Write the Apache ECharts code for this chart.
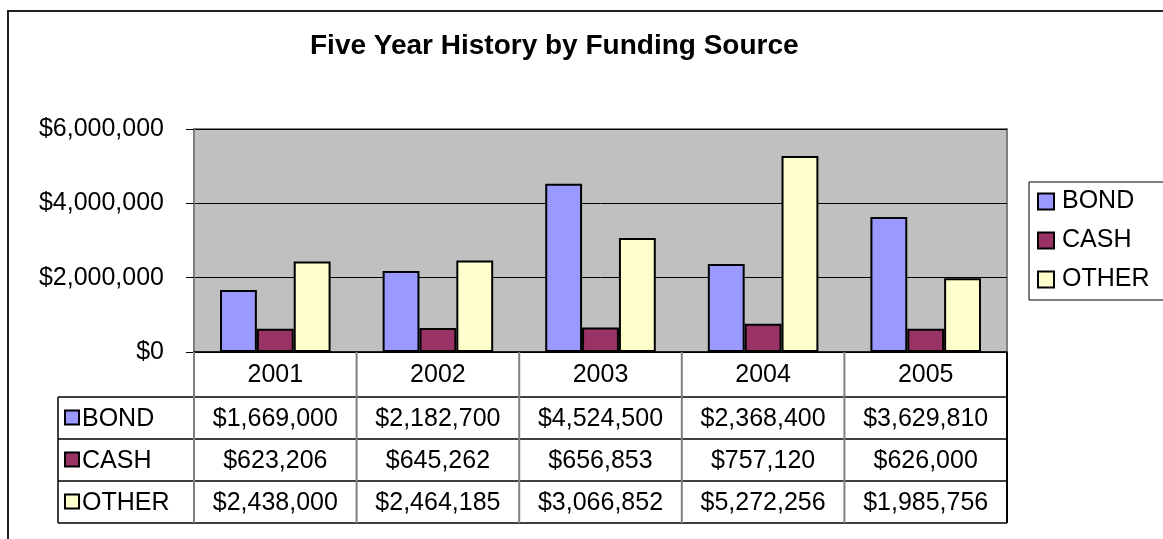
<!DOCTYPE html>
<html>
<head>
<meta charset="utf-8">
<script src="https://cdn.jsdelivr.net/npm/echarts@6/dist/echarts.min.js"></script>
<style>
  html, body { margin: 0; padding: 0; background: #fff; }
  #chart { width: 1163px; height: 539px; }
</style>
</head>
<body>
<div id="chart"></div>
<script>
// Funding by source, 2001-2005
const chartTitle = 'Five Year History by Funding Source';
const years = ['2001', '2002', '2003', '2004', '2005'];
const sourceNames = ['BOND', 'CASH', 'OTHER'];
const bond = [1669000, 2182700, 4524500, 2368400, 3629810];
const cash = [623206, 645262, 656853, 757120, 626000];
const other = [2438000, 2464185, 3066852, 5272256, 1985756];
const yTicks = [0, 2000000, 4000000, 6000000];

const sourceValues = [bond, cash, other];
const sourceColors = ['#9999FF', '#993366', '#FFFFCC'];
const FONT = '"Liberation Sans", Arial, sans-serif';
const LABEL_SIZE = 25;

const money = v => '$' + Number(v).toLocaleString('en-US');

const chart = echarts.init(document.getElementById('chart'), null, { renderer: 'canvas' });

chart.setOption({
  animation: false,
  backgroundColor: '#ffffff',
  textStyle: { fontFamily: FONT },
  title: {
    text: chartTitle,
    left: 305,
    top: 27,
    textStyle: { fontFamily: FONT, fontSize: 28, fontWeight: 'bold', color: '#000' }
  },
  legend: {
    orient: 'vertical',
    left: 1029,
    top: 182,
    padding: [7, 30, 8, 8],
    itemGap: 14,
    itemWidth: 16,
    itemHeight: 16,
    icon: 'rect',
    borderColor: '#000',
    borderWidth: 1,
    textStyle: { fontFamily: FONT, fontSize: LABEL_SIZE, color: '#000', padding: [0, 0, 0, 3] },
    data: sourceNames
  },
  grid: {
    left: 194, right: 156, top: 129, bottom: 187,
    show: true,
    backgroundColor: '#C0C0C0',
    borderColor: '#808080',
    borderWidth: 2
  },
  xAxis: {
    type: 'category',
    data: years,
    axisLine: { show: true, lineStyle: { color: '#000', width: 1.5 } },
    axisTick: { show: false },
    axisLabel: { show: false },
    splitLine: { show: false }
  },
  yAxis: {
    type: 'value',
    min: yTicks[0],
    max: yTicks[yTicks.length - 1],
    interval: yTicks[1] - yTicks[0],
    axisLine: { show: true, lineStyle: { color: '#808080', width: 2 } },
    axisTick: { show: true, inside: false, length: 8, lineStyle: { color: '#000', width: 1 } },
    axisLabel: { fontFamily: FONT, fontSize: LABEL_SIZE, color: '#000', margin: 30, formatter: money },
    splitLine: { show: true, lineStyle: { color: '#000', width: 1 } }
  },
  series: sourceNames.map((name, i) => ({
    name,
    type: 'bar',
    data: sourceValues[i],
    barGap: '0%',
    barCategoryGap: '32%',
    itemStyle: { color: sourceColors[i], borderColor: '#000', borderWidth: 2 }
  }))
});

// Data table under the plot, laid out on the category axis
function buildTable() {
  const c0 = chart.convertToPixel({ xAxisIndex: 0 }, 0);
  const c1 = chart.convertToPixel({ xAxisIndex: 0 }, 1);
  const band = c1 - c0;
  const axisY = chart.convertToPixel({ yAxisIndex: 0 }, 0);
  const leftEdge = c0 - band / 2;
  const rightEdge = leftEdge + band * years.length;
  const tableLeft = 58;
  const headerH = 45;
  const rowH = 42;
  const rowTops = sourceNames.map((_, i) => axisY + headerH + i * rowH);
  const tableBottom = axisY + headerH + sourceNames.length * rowH;

  const els = [];
  const txt = (x, y, s, align) => ({
    type: 'text', x, y, silent: true, z: 10,
    style: { text: s, fill: '#000', font: LABEL_SIZE + 'px ' + FONT, textAlign: align || 'center', textVerticalAlign: 'middle' }
  });
  const line = (x1, y1, x2, y2, color, w) => ({
    type: 'line', silent: true, z: 9,
    shape: { x1, y1, x2, y2 }, style: { stroke: color, lineWidth: w }
  });

  // header: years
  years.forEach((yr, j) => els.push(txt(c0 + j * band, axisY + headerH / 2 + 1, yr)));

  // rows: key, name, values
  sourceNames.forEach((name, i) => {
    const cy = rowTops[i] + rowH / 2;
    els.push({
      type: 'rect', silent: true, z: 10,
      shape: { x: 65, y: cy - 7.5, width: 14, height: 14 },
      style: { fill: sourceColors[i], stroke: '#000', lineWidth: 2 }
    });
    els.push(txt(82, cy + 1, name, 'left'));
    sourceValues[i].forEach((v, j) => els.push(txt(c0 + j * band, cy + 1, money(v))));
  });

  // horizontal rules
  rowTops.concat([tableBottom]).forEach(y => els.push(line(tableLeft, y, rightEdge, y, '#000', 1.5)));
  // vertical rules
  els.push(line(tableLeft, rowTops[0], tableLeft, tableBottom, '#000', 1.5));
  for (let j = 0; j <= years.length; j++) {
    const x = leftEdge + j * band;
    const col = (j === years.length) ? '#000' : '#808080';
    els.push(line(x, axisY, x, tableBottom, col, 2));
  }

  // chart area frame
  els.push({
    type: 'rect', silent: true, z: 0,
    shape: { x: 8, y: 11, width: 1200, height: 600 },
    style: { fill: null, stroke: '#222', lineWidth: 2 }
  });

  chart.setOption({ graphic: els });
}

buildTable();
</script>
</body>
</html>
